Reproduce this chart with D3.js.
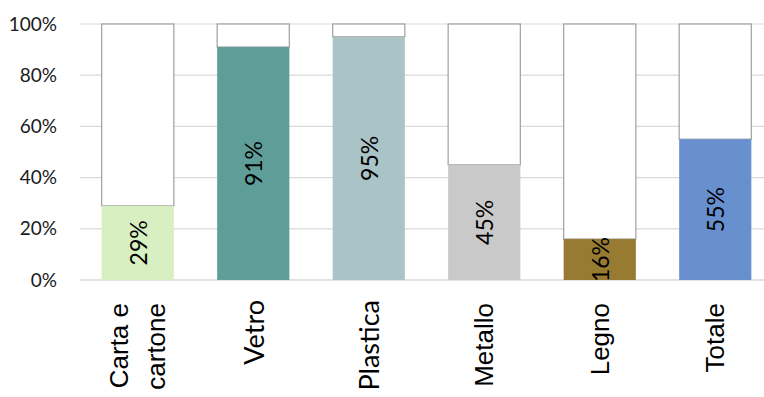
<!DOCTYPE html>
<html>
<head>
<meta charset="utf-8">
<script src="https://cdn.jsdelivr.net/npm/d3@7"></script>
<style>
  html, body { margin: 0; padding: 0; background: #fff; }
  svg { display: block; }
</style>
</head>
<body>
<svg id="chart" width="764" height="397"></svg>
<script>
// Share of packaging waste recovered, by material
const categories = ["Carta e cartone", "Vetro", "Plastica", "Metallo", "Legno", "Totale"];
const categoryLines = [["Carta e", "cartone"], ["Vetro"], ["Plastica"], ["Metallo"], ["Legno"], ["Totale"]];
const values = [29, 91, 95, 45, 16, 55];
const barColors = ["#d7efc1", "#5f9e98", "#a9c3c7", "#c9c9c9", "#987b33", "#6890cf"];
const yTicks = [0, 20, 40, 60, 80, 100];

const svg = d3.select("#chart");
const plot = { left: 80, right: 773, top: 24, bottom: 280 };
const humanist = "Lato, 'Open Sans', sans-serif";
const grotesk = "'Liberation Sans', Arial, sans-serif";
// two of the axis labels are set in the humanist face
const humanistLabels = new Set(["Vetro", "Plastica"]);

const x = d3.scaleBand()
  .domain(categories)
  .range([plot.left, plot.right])
  .paddingInner(0.375)
  .paddingOuter(0.1875);

const y = d3.scaleLinear()
  .domain([0, 100])
  .range([plot.bottom, plot.top]);

// gridlines
svg.append("g")
  .selectAll("line")
  .data(yTicks)
  .join("line")
  .attr("x1", plot.left)
  .attr("x2", 764)
  .attr("y1", d => y(d))
  .attr("y2", d => y(d))
  .attr("stroke", "#d9d9d9")
  .attr("stroke-width", d => d === 0 ? 1.6 : 1.2);

// y axis tick labels
svg.append("g")
  .selectAll("text")
  .data(yTicks)
  .join("text")
  .attr("x", 57)
  .attr("y", d => y(d))
  .attr("dy", "0.35em")
  .attr("text-anchor", "end")
  .attr("font-family", humanist)
  .attr("font-size", 19)
  .attr("fill", "#1a1a1a")
  .text(d => d + "%");

const rows = categories.map((c, i) => ({ c, v: values[i], color: barColors[i], lines: categoryLines[i] }));

svg.append("defs").append("clipPath").attr("id", "plotClip")
  .append("rect")
  .attr("x", plot.left).attr("y", 0)
  .attr("width", 764 - plot.left).attr("height", plot.bottom);

const bars = svg.append("g");

// remainder up to 100%
bars.selectAll("rect.rest")
  .data(rows)
  .join("rect")
  .attr("class", "rest")
  .attr("x", d => x(d.c))
  .attr("width", x.bandwidth())
  .attr("y", y(100))
  .attr("height", d => y(d.v) - y(100))
  .attr("fill", "#fff")
  .attr("stroke", "#a6a6a6")
  .attr("stroke-width", 1.3);

// value bars
bars.selectAll("rect.val")
  .data(rows)
  .join("rect")
  .attr("class", "val")
  .attr("x", d => x(d.c))
  .attr("width", x.bandwidth())
  .attr("y", d => y(d.v))
  .attr("height", d => y(0) - y(d.v))
  .attr("fill", d => d.color);

// value labels, rotated, centred in each bar
svg.append("g")
  .attr("clip-path", "url(#plotClip)")
  .selectAll("text")
  .data(rows)
  .join("text")
  .attr("transform", d => `translate(${x(d.c) + x.bandwidth() / 2},${(y(d.v) + y(0)) / 2}) rotate(-90)`)
  .attr("text-anchor", "middle")
  .attr("dominant-baseline", "central")
  .attr("font-family", humanist)
  .attr("font-size", 23)
  .attr("fill", "#000")
  .text(d => d.v + "%");

// category labels, rotated
const catG = svg.append("g");
rows.forEach(d => {
  const cx = x(d.c) + x.bandwidth() / 2;
  const n = d.lines.length;
  const lh = 37;
  const isHum = humanistLabels.has(d.c);
  d.lines.forEach((ln, k) => {
    const off = (k - (n - 1) / 2) * lh;
    catG.append("text")
      .attr("transform", `translate(${cx + off},${isHum ? 300 : 303}) rotate(-90)`)
      .attr("text-anchor", "end")
      .attr("dominant-baseline", "central")
      .attr("font-family", isHum ? humanist : grotesk)
      .attr("font-size", isHum ? 27 : 26)
      .attr("fill", "#000")
      .text(ln);
  });
});
</script>
</body>
</html>
